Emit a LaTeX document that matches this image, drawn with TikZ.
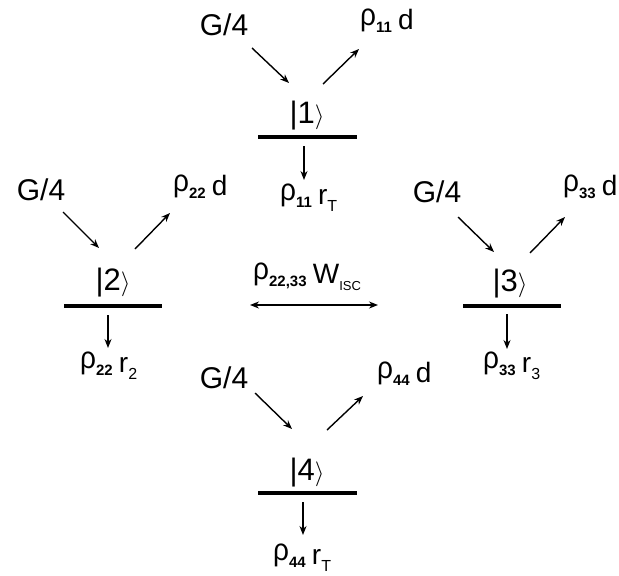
\documentclass[tikz,border=0pt]{standalone}
\usepackage{fontspec}
\setmainfont{Liberation Sans}
\usetikzlibrary{arrows.meta}
\newcommand\rh{\raisebox{0.12em}{\scalebox{1}[1.1]{ρ}}}
\newcommand\bsub[1]{\raisebox{-0.12em}{\fontsize{15}{15}\selectfont\bfseries #1}}
\newcommand\rsub[1]{\raisebox{-0.25em}{\fontsize{16}{16}\selectfont #1}}
\newcommand\ssub[1]{\raisebox{-0.25em}{\fontsize{13}{13}\selectfont #1}}
\newcommand\ket[1]{|#1$\rangle$}
\begin{document}
\begin{tikzpicture}[x=1pt,y=-1pt,
  lbl/.style={font=\fontsize{28}{28}\selectfont, inner sep=0pt},
  glbl/.style={font=\fontsize{30}{30}\selectfont, inner sep=0pt},
  klbl/.style={font=\fontsize{31}{31}\selectfont, inner sep=0pt},
  levelbar/.style={line width=4.5pt},
  arr/.style={line width=1.4pt, -{Stealth[length=9pt,width=7pt]}},
  darr/.style={line width=1.4pt, {Stealth[length=9pt,width=7pt]}-{Stealth[length=9pt,width=7pt]}}]
\useasboundingbox (0,0) rectangle (619,576);
\fill[white] (0,0) rectangle (619,576);

% ---- level 1
\node[glbl] (g1) at (224,25) {G/4};
\node[lbl, anchor=base west] (p1) at (360,29) {\rh\bsub{11}\hspace{0.22em}d};
\node[klbl] (k1) at (307,116) {\ket{1}};
\coordinate (b1l) at (258,137); \coordinate (b1r) at (357,137);
\draw[levelbar] (b1l) -- (b1r);
\coordinate (g1s) at (252,48); \coordinate (g1e) at (289,83);
\coordinate (d1s) at (323,84); \coordinate (d1e) at (359,49);
\coordinate (r1s) at (304,146); \coordinate (r1e) at (304,180);
\draw[arr] (g1s) -- (g1e);
\draw[arr] (d1s) -- (d1e);
\draw[arr] (r1s) -- (r1e);
\node[lbl, anchor=base west] (q1) at (280,204) {\rh\bsub{11}\hspace{0.22em}r\rsub{T}};

% ---- level 2
\node[glbl] (g2) at (41,190) {G/4};
\node[lbl, anchor=base west] (p2) at (173,195) {\rh\bsub{22}\hspace{0.22em}d};
\node[klbl] (k2) at (113,283) {\ket{2}};
\coordinate (b2l) at (64,306); \coordinate (b2r) at (162,306);
\draw[levelbar] (b2l) -- (b2r);
\coordinate (g2s) at (63,212); \coordinate (g2e) at (99,248);
\coordinate (d2s) at (135,249); \coordinate (d2e) at (170,213);
\coordinate (r2s) at (108,315); \coordinate (r2e) at (108,348);
\draw[arr] (g2s) -- (g2e);
\draw[arr] (d2s) -- (d2e);
\draw[arr] (r2s) -- (r2e);
\node[lbl, anchor=base west] (q2) at (80,372) {\rh\bsub{22}\hspace{0.22em}r\rsub{2}};

% ---- level 3
\node[glbl] (g3) at (437,192) {G/4};
\node[lbl, anchor=base west] (p3) at (563,195) {\rh\bsub{33}\hspace{0.22em}d};
\node[klbl] (k3) at (510,284) {\ket{3}};
\coordinate (b3l) at (463,306); \coordinate (b3r) at (561,306);
\draw[levelbar] (b3l) -- (b3r);
\coordinate (g3s) at (458,217); \coordinate (g3e) at (494,252);
\coordinate (d3s) at (530,253); \coordinate (d3e) at (565,217);
\coordinate (r3s) at (507,314); \coordinate (r3e) at (507,349);
\draw[arr] (g3s) -- (g3e);
\draw[arr] (d3s) -- (d3e);
\draw[arr] (r3s) -- (r3e);
\node[lbl, anchor=base west] (q3) at (483,372) {\rh\bsub{33}\hspace{0.22em}r\rsub{3}};

% ---- level 4
\node[glbl] (g4) at (224,378) {G/4};
\node[lbl, anchor=base west] (p4) at (377,382) {\rh\bsub{44}\hspace{0.22em}d};
\node[klbl] (k4) at (307,473) {\ket{4}};
\coordinate (b4l) at (258,493); \coordinate (b4r) at (357,493);
\draw[levelbar] (b4l) -- (b4r);
\coordinate (g4s) at (255,393); \coordinate (g4e) at (292,429);
\coordinate (d4s) at (327,430); \coordinate (d4e) at (363,396);
\coordinate (r4s) at (303,502); \coordinate (r4e) at (303,535);
\draw[arr] (g4s) -- (g4e);
\draw[arr] (d4s) -- (d4e);
\draw[arr] (r4s) -- (r4e);
\node[lbl, anchor=base west] (q4) at (273,564) {\rh\bsub{44}\hspace{0.22em}r\rsub{T}};

% ---- ISC
\node[lbl, anchor=base west] (isc) at (253,283) {\rh\bsub{22,33}\hspace{0.22em}W\ssub{ISC}};
\coordinate (is) at (250,305); \coordinate (ie) at (378,305);
\draw[darr] (is) -- (ie);
\end{tikzpicture}
\end{document}
